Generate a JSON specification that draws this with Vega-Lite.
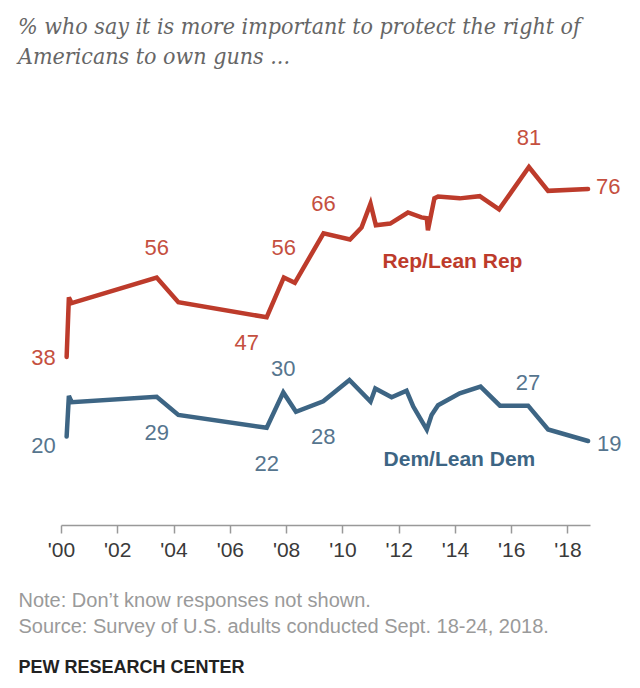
{
  "$schema": "https://vega.github.io/schema/vega-lite/v6.json",
  "width": 529,
  "height": 442,
  "autosize": {"type": "none"},
  "padding": {"left": 61, "top": 83, "right": 50, "bottom": 163},
  "background": "white",
  "title": {
    "text": ["% who say it is more important to protect the right of", "Americans to own guns ..."],
    "anchor": "start",
    "frame": "group",
    "dx": -43,
    "offset": 14,
    "font": "DejaVu Serif Condensed, DejaVu Serif",
    "fontStyle": "italic",
    "fontSize": 23,
    "fontWeight": "normal",
    "color": "#666666",
    "lineHeight": 30
  },
  "config": {"view": {"stroke": null}},
  "datasets": {
    "trend": [
      {"series": "Rep", "year": 2000.2, "value": 38, "pos": "left"},
      {"series": "Rep", "year": 2000.28, "value": 51.5},
      {"series": "Rep", "year": 2000.38, "value": 50.2},
      {"series": "Rep", "year": 2003.4, "value": 56, "pos": "above"},
      {"series": "Rep", "year": 2004.17, "value": 50.4},
      {"series": "Rep", "year": 2007.31, "value": 47, "pos": "belowleft"},
      {"series": "Rep", "year": 2007.92, "value": 56, "pos": "above"},
      {"series": "Rep", "year": 2008.31, "value": 54.8},
      {"series": "Rep", "year": 2009.33, "value": 66, "pos": "above"},
      {"series": "Rep", "year": 2010.27, "value": 64.6},
      {"series": "Rep", "year": 2010.68, "value": 67.3},
      {"series": "Rep", "year": 2011.0, "value": 72.7},
      {"series": "Rep", "year": 2011.19, "value": 67.8},
      {"series": "Rep", "year": 2011.7, "value": 68.2},
      {"series": "Rep", "year": 2012.33, "value": 70.7},
      {"series": "Rep", "year": 2012.81, "value": 69.6},
      {"series": "Rep", "year": 2013.0, "value": 69.4},
      {"series": "Rep", "year": 2013.04, "value": 66.7},
      {"series": "Rep", "year": 2013.27, "value": 73.9},
      {"series": "Rep", "year": 2013.4, "value": 74.3},
      {"series": "Rep", "year": 2014.17, "value": 73.9},
      {"series": "Rep", "year": 2014.88, "value": 74.4},
      {"series": "Rep", "year": 2015.57, "value": 71.4},
      {"series": "Rep", "year": 2016.63, "value": 81, "pos": "above"},
      {"series": "Rep", "year": 2017.31, "value": 75.6},
      {"series": "Rep", "year": 2018.73, "value": 76, "pos": "right"},
      {"series": "Dem", "year": 2000.2, "value": 20, "pos": "left"},
      {"series": "Dem", "year": 2000.28, "value": 29.2},
      {"series": "Dem", "year": 2000.38, "value": 27.8},
      {"series": "Dem", "year": 2003.4, "value": 29, "pos": "below"},
      {"series": "Dem", "year": 2004.17, "value": 24.9},
      {"series": "Dem", "year": 2007.31, "value": 22, "pos": "below"},
      {"series": "Dem", "year": 2007.9, "value": 30, "pos": "above"},
      {"series": "Dem", "year": 2008.35, "value": 25.6},
      {"series": "Dem", "year": 2009.32, "value": 28, "pos": "below"},
      {"series": "Dem", "year": 2010.25, "value": 32.8},
      {"series": "Dem", "year": 2011.0, "value": 27.9},
      {"series": "Dem", "year": 2011.17, "value": 30.9},
      {"series": "Dem", "year": 2011.75, "value": 28.9},
      {"series": "Dem", "year": 2012.28, "value": 30.4},
      {"series": "Dem", "year": 2012.52, "value": 26.8},
      {"series": "Dem", "year": 2013.0, "value": 21.6},
      {"series": "Dem", "year": 2013.17, "value": 24.9},
      {"series": "Dem", "year": 2013.4, "value": 27.1},
      {"series": "Dem", "year": 2014.17, "value": 29.8},
      {"series": "Dem", "year": 2014.91, "value": 31.3},
      {"series": "Dem", "year": 2015.6, "value": 27.0},
      {"series": "Dem", "year": 2016.6, "value": 27, "pos": "above"},
      {"series": "Dem", "year": 2017.31, "value": 21.6},
      {"series": "Dem", "year": 2018.73, "value": 19, "pos": "right"}
    ],
    "names": [
      {"series": "Rep", "name": "Rep/Lean Rep", "year": 2013.91, "value": 59.4},
      {"series": "Dem", "name": "Dem/Lean Dem", "year": 2014.16, "value": 14.8}
    ]
  },
  "layer": [
    {
      "data": {"name": "trend"},
      "mark": {"type": "line", "strokeWidth": 4.5, "strokeCap": "round"},
      "encoding": {
        "x": {
          "field": "year",
          "type": "quantitative",
          "scale": {"domain": [2000, 2018.8], "nice": false, "zero": false},
          "axis": {
            "values": [2000, 2002, 2004, 2006, 2008, 2010, 2012, 2014, 2016, 2018],
            "labelExpr": "\"'\" + substring(toString(datum.value), 2)",
            "grid": false,
            "domainColor": "#999999",
            "domainWidth": 1.5,
            "tickColor": "#999999",
            "tickWidth": 1.5,
            "tickSize": 8,
            "labelFont": "Liberation Sans",
            "labelFontSize": 21,
            "labelColor": "#3a3a3a",
            "labelPadding": 6,
            "labelFlush": false,
            "title": ["Note: Don’t know responses not shown.", "Source: Survey of U.S. adults conducted Sept. 18-24, 2018."],
            "titleFont": "Liberation Sans",
            "titleFontSize": 20,
            "titleFontWeight": "normal",
            "titleColor": "#9a9a9a",
            "titleX": -43,
            "titleY": 65,
            "titleAlign": "left",
            "titleAnchor": "start",
            "titleBaseline": "top",
            "titleLineHeight": 26
          }
        },
        "y": {
          "field": "value",
          "type": "quantitative",
          "scale": {"domain": [0, 100], "nice": false},
          "axis": {
            "domain": false,
            "ticks": false,
            "labels": false,
            "grid": false,
            "title": "PEW RESEARCH CENTER",
            "titleAngle": 0,
            "titleX": -43,
            "titleY": 575,
            "titleAlign": "left",
            "titleBaseline": "top",
            "titleFont": "Liberation Sans",
            "titleFontSize": 18,
            "titleFontWeight": "bold",
            "titleColor": "#222222"
          }
        },
        "color": {
          "field": "series",
          "type": "nominal",
          "scale": {"domain": ["Rep", "Dem"], "range": ["#BD3B2B", "#3D6584"]},
          "legend": null
        }
      }
    },
    {
      "data": {"name": "trend"},
      "transform": [{"filter": "datum.series === 'Rep' && datum.pos === 'left'"}],
      "mark": {"type": "text", "align": "right", "baseline": "middle", "dx": -11, "dy": 1, "font": "Liberation Sans", "fontSize": 22, "color": "#C5503F"},
      "encoding": {"x": {"field": "year", "type": "quantitative"}, "y": {"field": "value", "type": "quantitative"}, "text": {"field": "value", "type": "quantitative", "format": ".0f"}}
    },
    {
      "data": {"name": "trend"},
      "transform": [{"filter": "datum.series === 'Dem' && datum.pos === 'left'"}],
      "mark": {"type": "text", "align": "right", "baseline": "middle", "dx": -11, "dy": 9, "font": "Liberation Sans", "fontSize": 22, "color": "#56758E"},
      "encoding": {"x": {"field": "year", "type": "quantitative"}, "y": {"field": "value", "type": "quantitative"}, "text": {"field": "value", "type": "quantitative", "format": ".0f"}}
    },
    {
      "data": {"name": "trend"},
      "transform": [{"filter": "datum.series === 'Rep' && datum.pos === 'above'"}],
      "mark": {"type": "text", "align": "center", "baseline": "middle", "dy": -29, "font": "Liberation Sans", "fontSize": 22, "color": "#C5503F"},
      "encoding": {"x": {"field": "year", "type": "quantitative"}, "y": {"field": "value", "type": "quantitative"}, "text": {"field": "value", "type": "quantitative", "format": ".0f"}}
    },
    {
      "data": {"name": "trend"},
      "transform": [{"filter": "datum.series === 'Dem' && datum.pos === 'above'"}],
      "mark": {"type": "text", "align": "center", "baseline": "middle", "dy": -23, "font": "Liberation Sans", "fontSize": 22, "color": "#56758E"},
      "encoding": {"x": {"field": "year", "type": "quantitative"}, "y": {"field": "value", "type": "quantitative"}, "text": {"field": "value", "type": "quantitative", "format": ".0f"}}
    },
    {
      "data": {"name": "trend"},
      "transform": [{"filter": "datum.series === 'Dem' && datum.pos === 'below'"}],
      "mark": {"type": "text", "align": "center", "baseline": "middle", "dy": 36, "font": "Liberation Sans", "fontSize": 22, "color": "#56758E"},
      "encoding": {"x": {"field": "year", "type": "quantitative"}, "y": {"field": "value", "type": "quantitative"}, "text": {"field": "value", "type": "quantitative", "format": ".0f"}}
    },
    {
      "data": {"name": "trend"},
      "transform": [{"filter": "datum.series === 'Rep' && datum.pos === 'belowleft'"}],
      "mark": {"type": "text", "align": "center", "baseline": "middle", "dx": -20, "dy": 26, "font": "Liberation Sans", "fontSize": 22, "color": "#C5503F"},
      "encoding": {"x": {"field": "year", "type": "quantitative"}, "y": {"field": "value", "type": "quantitative"}, "text": {"field": "value", "type": "quantitative", "format": ".0f"}}
    },
    {
      "data": {"name": "trend"},
      "transform": [{"filter": "datum.series === 'Rep' && datum.pos === 'right'"}],
      "mark": {"type": "text", "align": "left", "baseline": "middle", "dx": 8, "dy": -2, "font": "Liberation Sans", "fontSize": 22, "color": "#C5503F"},
      "encoding": {"x": {"field": "year", "type": "quantitative"}, "y": {"field": "value", "type": "quantitative"}, "text": {"field": "value", "type": "quantitative", "format": ".0f"}}
    },
    {
      "data": {"name": "trend"},
      "transform": [{"filter": "datum.series === 'Dem' && datum.pos === 'right'"}],
      "mark": {"type": "text", "align": "left", "baseline": "middle", "dx": 9, "dy": 3, "font": "Liberation Sans", "fontSize": 22, "color": "#56758E"},
      "encoding": {"x": {"field": "year", "type": "quantitative"}, "y": {"field": "value", "type": "quantitative"}, "text": {"field": "value", "type": "quantitative", "format": ".0f"}}
    },
    {
      "data": {"name": "names"},
      "mark": {"type": "text", "align": "center", "baseline": "middle", "font": "Liberation Sans", "fontSize": 21, "fontWeight": "bold"},
      "encoding": {
        "x": {"field": "year", "type": "quantitative"},
        "y": {"field": "value", "type": "quantitative"},
        "text": {"field": "name", "type": "nominal"},
        "color": {"field": "series", "type": "nominal", "legend": null}
      }
    }
  ]
}
